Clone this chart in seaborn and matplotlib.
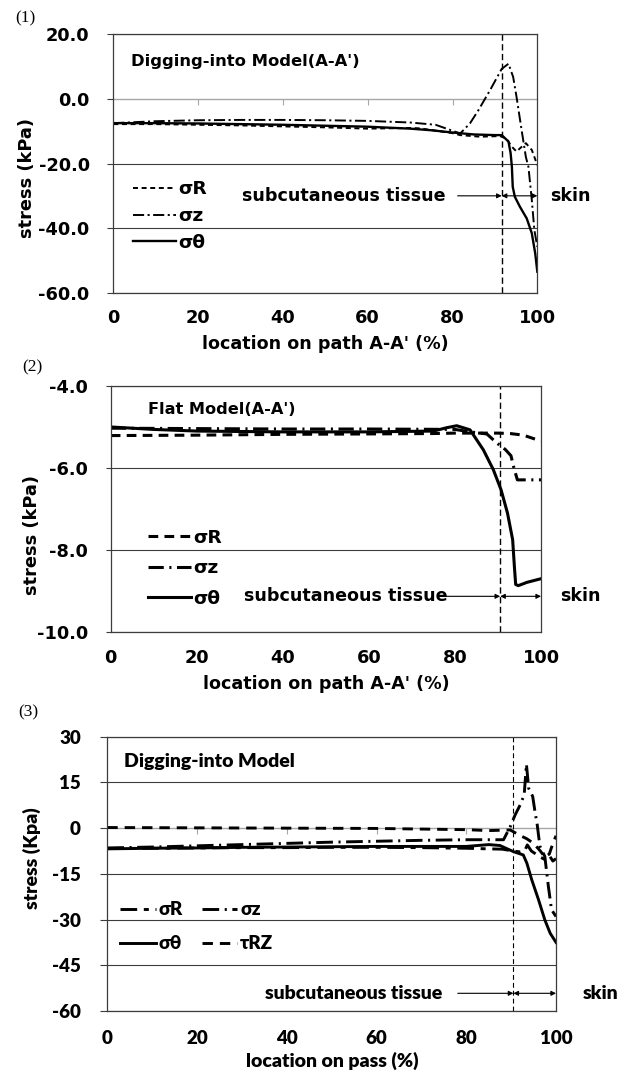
import matplotlib
matplotlib.use("Agg")
import matplotlib.pyplot as plt
import seaborn as sns

# ---------------- data ----------------
# Panel (1): Digging-into Model (A-A')
p1_x_r = [0, 10, 20, 30, 40, 50, 60, 70, 72.3, 80, 81.8, 86.5, 91.2, 92.7, 94.0, 95.1, 95.9, 97.3, 98.7, 100]
p1_r = [-7.8, -7.8, -8.0, -8.2, -8.5, -8.8, -9.2, -9.0, -9.1, -10.6, -11.2, -11.7, -11.5, -12.3, -14.8, -16.3, -15.3, -13.7, -15.8, -20.5]
p1_x_z = [0, 10, 20, 30, 40, 50, 60, 70, 76, 81.8, 84.1, 86.1, 88.8, 91.6, 93.2, 94.3, 95.1, 96.3, 97.3, 97.9, 98.7, 99.3, 100]
p1_z = [-7.5, -6.9, -6.6, -6.5, -6.5, -6.6, -6.8, -7.3, -8.0, -10.7, -7.6, -3.5, 2.6, 9.3, 10.9, 6.8, 0.6, -9.7, -18.0, -21.0, -31.3, -40.6, -45.8]
p1_x_t = [0, 10, 20, 30, 40, 50, 60, 70, 75, 80, 85, 90, 91.6, 93.2, 93.7, 94.0, 94.2, 94.7, 95.9, 97.5, 98.7, 99.5, 100]
p1_t = [-7.5, -7.5, -7.6, -7.8, -8.0, -8.3, -8.6, -9.2, -9.7, -10.4, -11.0, -11.2, -11.2, -13.2, -16.8, -21.0, -27.2, -30.3, -33.4, -37.0, -41.6, -47.8, -53.5]
p1_yticks = [20.0, 0.0, -20.0, -40.0, -60.0]
p1_boundary = 91.6

# Panel (2): Flat Model (A-A')
p2_x_r = [0, 20, 40, 60, 75, 80, 85, 90, 92.8, 95.9, 99, 100]
p2_r = [-5.21, -5.20, -5.18, -5.17, -5.16, -5.15, -5.15, -5.15, -5.16, -5.20, -5.31, -5.34]
p2_x_z = [0, 20, 40, 60, 80, 83.5, 87.4, 89.7, 91.7, 93.0, 93.7, 94.5, 96, 100]
p2_z = [-5.03, -5.04, -5.05, -5.05, -5.06, -5.12, -5.17, -5.39, -5.55, -5.70, -6.00, -6.29, -6.29, -6.29]
p2_x_t = [0, 5, 10, 20, 40, 60, 75, 78, 80.4, 83.5, 86.6, 88.9, 90.7, 92.2, 93.4, 93.8, 94.1, 94.7, 96.7, 100]
p2_t = [-5.00, -5.03, -5.06, -5.10, -5.12, -5.12, -5.10, -5.02, -4.97, -5.07, -5.56, -6.04, -6.53, -7.10, -7.75, -8.40, -8.84, -8.87, -8.79, -8.70]
p2_yticks = [-4.0, -6.0, -8.0, -10.0]
p2_boundary = 90.5

# Panel (3): Digging-into Model
p3_x_r = [0, 10, 20, 30, 40, 50, 60, 70, 80, 85, 88, 90.5, 92, 93, 93.6, 94.5, 95.5, 96.5, 97.5, 98.5, 99.3, 100]
p3_r = [-6.7, -6.6, -6.5, -6.4, -6.4, -6.3, -6.3, -6.4, -6.6, -6.8, -6.9, -7.5, -7.8, -7.5, -5.5, -7.5, -8.5, -9.5, -10.3, -9.0, -10.8, -10.0]
p3_x_z = [0, 10, 20, 30, 40, 50, 60, 70, 80, 85, 88.3, 89.8, 90.9, 92.0, 92.9, 93.4, 93.9, 94.8, 95.3, 95.8, 96.4, 97.5, 98.3, 99.0, 100]
p3_z = [-6.5, -6.2, -5.8, -5.4, -5.0, -4.6, -4.3, -4.0, -3.8, -3.8, -3.8, 0.5, 4.4, 7.6, 10.9, 21.0, 13.1, 10.4, 5.5, 1.2, -5.9, -9.3, -19.2, -26.8, -29.0]
p3_x_t = [0, 10, 20, 30, 40, 50, 60, 70, 80, 85, 87.5, 90.5, 92.7, 93.5, 94.6, 96.1, 97.5, 98.7, 100]
p3_t = [-6.8, -6.6, -6.5, -6.3, -6.2, -6.1, -6.0, -6.0, -6.0, -5.4, -5.7, -7.7, -8.8, -11.5, -17.0, -23.5, -30.1, -34.5, -37.5]
p3_x_rz = [0, 20, 40, 60, 70, 80, 85, 89.8, 91, 92.4, 93.5, 95, 96.5, 97.5, 98.5, 99.3, 100]
p3_rz = [0.2, 0.1, 0.0, -0.1, -0.3, -0.5, -0.8, -0.6, -1.6, -2.7, -3.5, -5.0, -7.5, -9.5, -8.5, -5.0, -2.5]
p3_yticks = [30, 15, 0, -15, -30, -45, -60]
p3_boundary = 90.5

xticks = [0, 20, 40, 60, 80, 100]

# ---------------- style ----------------
plt.rcParams['lines.scale_dashes'] = False
plt.rcParams['font.weight'] = 'bold'
plt.rcParams['axes.labelweight'] = 'bold'

GRID = '#3c3c3c'
ZERO = '#a6a6a6'
F12 = ['DejaVu Sans']
F3 = ['Lato', 'DejaVu Sans']
W3 = 'heavy'

fig = plt.figure(figsize=(6.32, 10.73), dpi=100)
ax1 = fig.add_axes([0.1793, 0.7272, 0.6709, 0.2408])
ax2 = fig.add_axes([0.1752, 0.4110, 0.6809, 0.2293])
ax3 = fig.add_axes([0.1698, 0.0578, 0.7100, 0.2556])


def frame(ax, yticks, fmt, fam, fs, ypad, ylen, xpad, weight='bold', zero_loc=None):
    ax.set_xlim(0, 100)
    ax.set_ylim(min(yticks), max(yticks))
    ax.set_xticks(xticks)
    ax.set_yticks(yticks)
    ax.set_xticklabels([str(v) for v in xticks], fontfamily=fam, fontsize=fs, fontweight=weight)
    ax.set_yticklabels([fmt.format(v) for v in yticks], fontfamily=fam, fontsize=fs, fontweight=weight)
    ax.tick_params(axis='x', length=0, pad=xpad)
    ax.tick_params(axis='y', length=ylen, width=0.8, color=GRID, pad=ypad)
    for s in ax.spines.values():
        s.set_color(GRID)
        s.set_linewidth(0.9)
    ax.grid(axis='y', color=GRID, lw=0.8)
    ax.grid(axis='x', visible=False)
    for t in ax.yaxis.get_major_ticks():
        if t.get_loc() == 0:
            t.gridline.set_color(ZERO)
    if zero_loc is not None:
        sec = ax.secondary_xaxis(zero_loc)
        sec.set_xticks([20, 40, 60, 80])
        sec.tick_params(axis='x', direction='in', length=4.5, width=0.8, color=ZERO,
                        labeltop=False, labelbottom=False)
        for s in sec.spines.values():
            s.set_color(ZERO)
            s.set_linewidth(0.9)
    ax.set_axisbelow(True)


def line(ax, x, y, ls, lw, label):
    sns.lineplot(x=x, y=y, ax=ax, color='black', linestyle=ls, linewidth=lw,
                 label=label, estimator=None, sort=False, legend=False)


def region_labels(ax, boundary, ytxt, start, txt_x, skin_x, fam, fs, weight='bold'):
    ax.annotate('', xy=(boundary, ytxt), xytext=(start, ytxt),
                arrowprops=dict(arrowstyle='-|>', lw=0.8, color='black',
                                mutation_scale=7, shrinkA=0, shrinkB=0))
    ax.annotate('', xy=(100, ytxt), xytext=(boundary, ytxt),
                arrowprops=dict(arrowstyle='<|-|>', lw=0.8, color='black',
                                mutation_scale=7, shrinkA=0, shrinkB=0))
    ax.text(txt_x, ytxt, 'subcutaneous tissue', ha='center', va='center',
            fontfamily=fam, fontsize=fs, fontweight=weight)
    ax.text(skin_x, ytxt, 'skin', ha='center', va='center', clip_on=False,
            fontfamily=fam, fontsize=fs, fontweight=weight)


# ---------------- panel 1 ----------------
frame(ax1, p1_yticks, '{:.1f}', F12, 12.8, 12.5, 4.5, 12, zero_loc=0.75)
line(ax1, p1_x_r, p1_r, (0, (3.6, 2.6)), 1.4, 'σR')
line(ax1, p1_x_z, p1_z, (0, (8, 2.5, 1.5, 2.5)), 1.4, 'σz')
line(ax1, p1_x_t, p1_t, '-', 1.7, 'σθ')
ax1.axvline(p1_boundary, color='black', lw=1.0, ls=(0, (4.5, 2.5)))
ax1.text(4.1, 11.5, "Digging-into Model(A-A')", ha='left', va='center',
         fontfamily=F12, fontsize=11.8, fontweight='bold')
region_labels(ax1, p1_boundary, -30.0, 81.2, 54.4, 107.7, F12, 12.6)
ax1.set_xlabel("location on path A-A' (%)", fontfamily=F12, fontsize=12.6, fontweight='bold')
ax1.xaxis.set_label_coords(0.5, -0.165)
ax1.set_ylabel('stress (kPa)', fontfamily=F12, fontsize=12.8, fontweight='bold', va='center')
ax1.yaxis.set_label_coords(-0.204, 0.444)
ax1.legend(loc='center left', bbox_to_anchor=(0.0465, 0.297), frameon=False,
           prop=dict(family=F12, size=13.3, weight='bold'), handlelength=2.3,
           handletextpad=0.15, labelspacing=0.48, borderpad=0, borderaxespad=0)

# ---------------- panel 2 ----------------
frame(ax2, p2_yticks, '{:.1f}', F12, 12.8, 13.0, 3.5, 12)
line(ax2, p2_x_r, p2_r, (0, (7, 4.5)), 2.2, 'σR')
line(ax2, p2_x_z, p2_z, (0, (11, 4, 1.5, 4)), 2.2, 'σz')
line(ax2, p2_x_t, p2_t, '-', 2.2, 'σθ')
ax2.axvline(p2_boundary, color='black', lw=1.0, ls=(0, (4.5, 2.5)))
ax2.text(8.7, -4.57, "Flat Model(A-A')", ha='left', va='center',
         fontfamily=F12, fontsize=11.6, fontweight='bold')
region_labels(ax2, p2_boundary, -9.13, 77.8, 54.5, 109.2, F12, 12.6)
ax2.set_xlabel("location on path A-A' (%)", fontfamily=F12, fontsize=12.6, fontweight='bold')
ax2.xaxis.set_label_coords(0.502, -0.175)
ax2.set_ylabel('stress (kPa)', fontfamily=F12, fontsize=12.8, fontweight='bold', va='center')
ax2.yaxis.set_label_coords(-0.184, 0.394)
ax2.legend(loc='center left', bbox_to_anchor=(0.0867, 0.259), frameon=False,
           prop=dict(family=F12, size=13.3, weight='bold'), handlelength=2.3,
           handletextpad=0.15, labelspacing=0.68, borderpad=0, borderaxespad=0)

# ---------------- panel 3 ----------------
frame(ax3, p3_yticks, '{:d}', F3, 13.5, 14.0, 5.0, 14, weight=W3, zero_loc=60 / 90)
line(ax3, p3_x_r, p3_r, (0, (12, 4.8, 3.6, 4.8)), 2.1, 'σR')
line(ax3, p3_x_t, p3_t, '-', 2.1, 'σθ')
line(ax3, p3_x_z, p3_z, (0, (12, 4, 1.5, 4)), 2.1, 'σz')
line(ax3, p3_x_rz, p3_rz, (0, (7.5, 5)), 2.1, 'τRZ')
ax3.axvline(p3_boundary, color='black', lw=0.8, ls=(0, (3.5, 2.2)))
ax3.text(3.7, 21.9, 'Digging-into Model', ha='left', va='center',
         fontfamily=F3, fontsize=14, fontweight=W3)
region_labels(ax3, p3_boundary, -54.2, 78.1, 54.9, 110.0, F3, 14, weight=W3)
ax3.set_xlabel('location on pass (%)', fontfamily=F3, fontsize=14, fontweight=W3)
ax3.xaxis.set_label_coords(0.502, -0.149)
ax3.set_ylabel('stress (Kpa)', fontfamily=F3, fontsize=14, fontweight=W3, va='center')
ax3.yaxis.set_label_coords(-0.168, 0.557)
ax3.legend(loc='center left', bbox_to_anchor=(0.028, 0.307), frameon=False, ncol=2,
           prop=dict(family=F3, size=13.5, weight=W3), handlelength=1.9,
           handletextpad=0.16, labelspacing=0.9, columnspacing=1.0,
           borderpad=0, borderaxespad=0)

# ---------------- panel numbers ----------------
for txt, xy in [('(1)', (25, 18)), ('(2)', (32, 367)), ('(3)', (28, 712))]:
    fig.text(xy[0] / 632, 1 - xy[1] / 1073, txt, ha='center', va='center',
             fontfamily=['Liberation Serif', 'DejaVu Serif'], fontsize=12.5, fontweight='normal')

fig.savefig('out.png', dpi=100)
